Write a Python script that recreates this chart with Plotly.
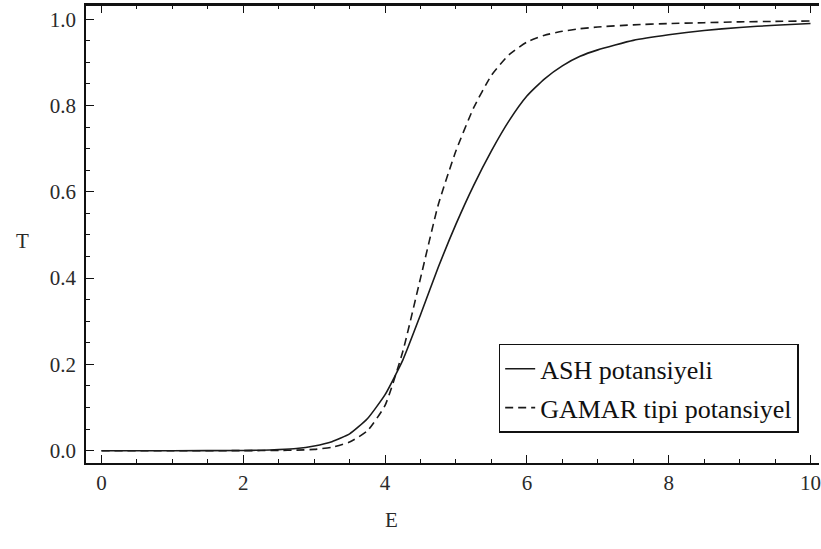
import plotly.graph_objects as go

# Transmission coefficient T versus energy E for the two potentials
energy = [0.0, 1.0, 2.0, 2.25, 2.5, 2.75, 3.0, 3.25, 3.5, 3.75, 4.0, 4.25, 4.5, 4.75,
          5.0, 5.25, 5.5, 5.75, 6.0, 6.25, 6.5, 6.75, 7.0, 7.5, 8.0, 8.5, 9.0,
          9.5, 10.0]

t_ash = [0.0, 0.0, 0.0006, 0.0012, 0.0025, 0.005, 0.011, 0.021, 0.039, 0.074, 0.13,
         0.21, 0.315, 0.425, 0.525, 0.615, 0.695, 0.765, 0.822, 0.862, 0.892, 0.914,
         0.929, 0.951, 0.964, 0.974, 0.981, 0.986, 0.99]

t_gamar = [0.0, 0.0, 0.0001, 0.0003, 0.0006, 0.0014, 0.003, 0.008, 0.02, 0.046,
           0.105, 0.23, 0.40, 0.57, 0.695, 0.795, 0.87, 0.918, 0.947, 0.963, 0.972,
           0.978, 0.982, 0.987, 0.99, 0.992, 0.994, 0.995, 0.996]

x_ticks = [0, 2, 4, 6, 8, 10]
y_ticks = [0.0, 0.2, 0.4, 0.6, 0.8, 1.0]

serif = "Liberation Serif"
ink = "#111"
text_col = "#2a2a2a"

fig = go.Figure()
fig.add_trace(go.Scatter(
    x=energy, y=t_ash, mode="lines", name="ASH potansiyeli",
    legendgroup="ash",
    line=dict(color="#1a1a1a", width=1.6, shape="spline", smoothing=0.5),
))
fig.add_trace(go.Scatter(
    x=energy, y=t_gamar, mode="lines", name="GAMAR tipi potansiyel",
    legendgroup="gamar",
    line=dict(color="#1a1a1a", width=1.6, dash="8px,5px", shape="spline", smoothing=0.5),
))

minor_x = dict(dtick=0.5, ticks="inside", ticklen=4, tickwidth=1.1, tickcolor=ink)
minor_y = dict(dtick=0.05, ticks="inside", ticklen=4, tickwidth=1.1, tickcolor=ink)

fig.update_layout(
    width=821, height=549,
    margin=dict(l=86, r=0, t=5, b=86),
    paper_bgcolor="white", plot_bgcolor="white",
    font=dict(family=serif, size=21, color=text_col),
    showlegend=True,
    legend=dict(
        x=0.563, y=0.26, xanchor="left", yanchor="top",
        bgcolor="white", bordercolor=ink, borderwidth=1.5,
        font=dict(family=serif, size=26, color=ink),
        itemwidth=30, traceorder="grouped", tracegroupgap=2,
    ),
    xaxis=dict(
        range=[-0.218, 10.12], tickvals=x_ticks, ticktext=[str(v) for v in x_ticks],
        showgrid=False, zeroline=False,
        showline=True, linecolor=ink, linewidth=1.5, mirror="allticks",
        ticks="inside", ticklen=8, tickwidth=1.3, tickcolor=ink, minor=minor_x,
        ticklabelstandoff=0, ticklabeloverflow="allow",
    ),
    yaxis=dict(
        range=[-0.0285, 1.033], tickvals=y_ticks, ticktext=[f"{v:.1f}" for v in y_ticks],
        showgrid=False, zeroline=False,
        showline=True, linecolor=ink, linewidth=1.5,
        ticks="inside", ticklen=8, tickwidth=1.3, tickcolor=ink, minor=minor_y,
        ticklabelstandoff=4,
    ),
)

# top edge of the frame
fig.add_shape(type="line", xref="paper", yref="paper", x0=0, x1=1, y0=1, y1=1,
              line=dict(color=ink, width=2), layer="above")

# Upright axis labels
fig.add_annotation(text="T", x=-0.086, xref="paper", y=0.485, yref="paper",
                   xanchor="center", yanchor="middle", showarrow=False,
                   font=dict(family=serif, size=21, color=text_col))
fig.add_annotation(text="E", x=0.417, xref="paper", y=-0.125, yref="paper",
                   xanchor="center", yanchor="middle", showarrow=False,
                   font=dict(family=serif, size=21, color=text_col))

fig.write_html("out.html")
